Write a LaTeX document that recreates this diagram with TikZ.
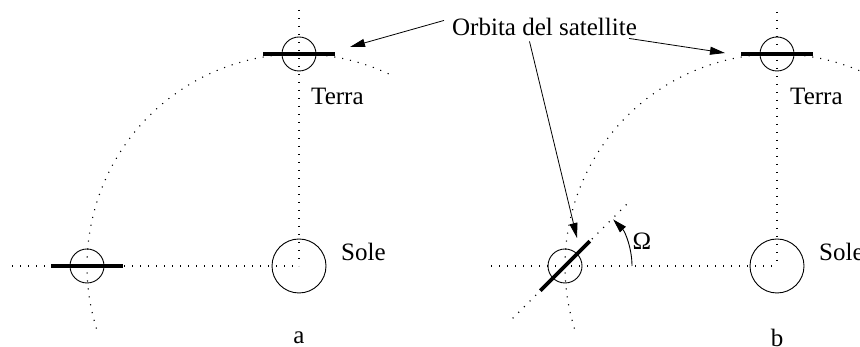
\documentclass[tikz,border=0pt]{standalone}
\usepackage{fontspec}
\setmainfont{Liberation Serif}
\usetikzlibrary{arrows.meta}
\begin{document}
\begin{tikzpicture}[x=1pt,y=1pt,
  dots/.style={line width=1.1pt,dash pattern=on 1.1pt off 6.9pt,line cap=butt},
  thin/.style={line width=0.9pt},
  bar/.style={line width=3.6pt},
  lbl/.style={font=\fontsize{25}{30}\selectfont,inner sep=0pt},
  arr/.style={line width=0.8pt,-{Triangle[length=15pt,width=8pt]}}]
\useasboundingbox (0,0) rectangle (860,347);
% ---------- panel a ----------
\coordinate (S1) at (299,81);
\coordinate (E1) at (299,293);
\coordinate (E2) at (87,81);
\draw[dots] (299,337) -- (S1);
\draw[dots] (12,81) -- (S1);
\draw[dots] ([shift={(65:212)}]S1) arc[start angle=65,end angle=197.5,radius=212];
\node[thin,draw,circle,minimum size=54pt,inner sep=0pt] (sun1) at (S1) {};
\node[thin,draw,circle,minimum size=34pt,inner sep=0pt] (ea1) at (E1) {};
\node[thin,draw,circle,minimum size=34pt,inner sep=0pt] (ea2) at (E2) {};
\draw[bar] ([xshift=-36pt]E1) -- ([xshift=36pt]E1);
\draw[bar] ([xshift=-36pt]E2) -- ([xshift=36pt]E2);
\node[lbl,anchor=west] (terra1) at (311,251) {Terra};
\node[lbl,anchor=west] (sole1) at (341,95) {Sole};
\node[lbl] (la) at (299,9) {a};
% ---------- panel b ----------
\coordinate (S2) at (777,81);
\coordinate (E3) at (777,293);
\coordinate (E4) at (565,81);
\draw[dots] (777,335) -- (S2);
\draw[dots] (491,81) -- (S2);
\draw[dots] ([shift={(65:212)}]S2) arc[start angle=65,end angle=197.5,radius=212];
\draw[dots] ([shift={(225:74)}]E4) -- ([shift={(45:89)}]E4);
\node[thin,draw,circle,minimum size=54pt,inner sep=0pt] (sun2) at (S2) {};
\node[thin,draw,circle,minimum size=34pt,inner sep=0pt] (ea3) at (E3) {};
\node[thin,draw,circle,minimum size=34pt,inner sep=0pt] (ea4) at (E4) {};
\draw[bar] ([xshift=-36pt]E3) -- ([xshift=36pt]E3);
\draw[bar] ([shift={(225:35)}]E4) -- ([shift={(45:35)}]E4);
\draw[thin,-{Triangle[length=14pt,width=8pt]}] ([xshift=67pt]E4) arc[start angle=0,end angle=44,radius=67];
\node[lbl] (om) at (642,106) {Ω};
\node[lbl,anchor=west] (terra2) at (790,251) {Terra};
\node[lbl,anchor=west] (sole2) at (819,95) {Sole};
\node[lbl] (lb) at (777,9) {b};
% ---------- label and arrows ----------
\node[lbl,anchor=base] (orb) at (544.5,311) {Orbita del satellite};
\coordinate (t1) at (350,300);
\coordinate (t2) at (725,294);
\coordinate (t3) at (577,109);
\draw[arr] ([xshift=-8pt,yshift=7pt]orb.west) -- (t1);
\draw[arr] ([xshift=-8pt,yshift=-2pt]orb.south east) -- (t2);
\draw[arr] ([xshift=-15pt,yshift=-5pt]orb.south) -- (t3);
\end{tikzpicture}
\end{document}
